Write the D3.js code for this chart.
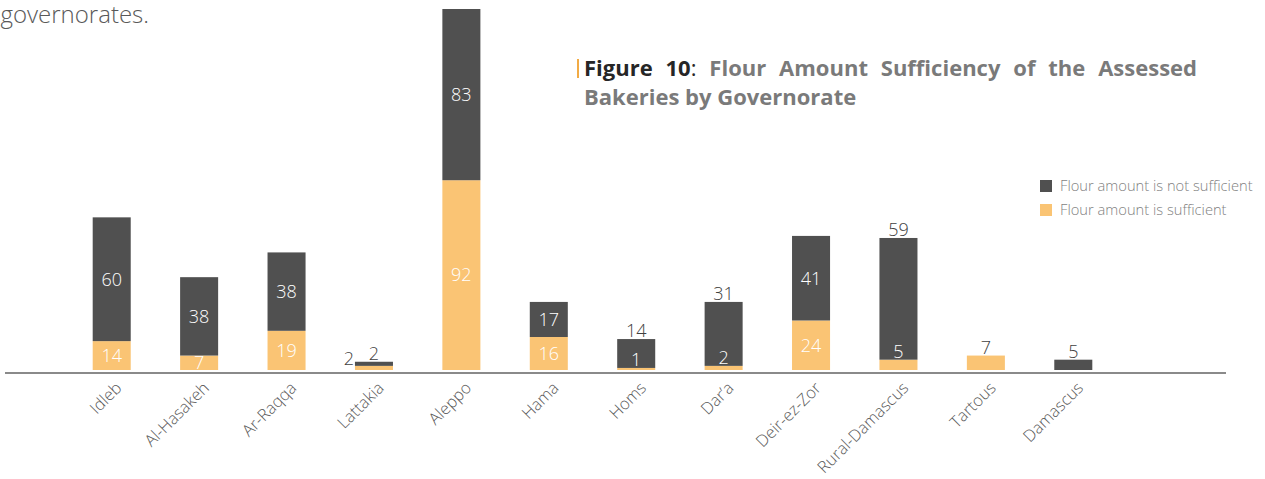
<!DOCTYPE html>
<html>
<head>
<meta charset="utf-8">
<script src="https://cdn.jsdelivr.net/npm/d3@7"></script>
<style>
  html, body { margin: 0; padding: 0; background: #fff; overflow: hidden; }
  svg { display: block; font-family: "Open Sans", "Noto Sans", sans-serif; }
</style>
</head>
<body>
<svg id="chart" width="1265" height="479"></svg>
<script>
// Bakeries per governorate, split by whether their flour amount is sufficient
const governorates = ["Idleb", "Al-Hasakeh", "Ar-Raqqa", "Lattakia", "Aleppo", "Hama", "Homs", "Dar’a", "Deir-ez-Zor", "Rural-Damascus", "Tartous", "Damascus"];
const sufficient    = [14, 7, 19, 2, 92, 16, 1, 2, 24, 5, 7, 0];
const notSufficient = [60, 38, 38, 2, 83, 17, 14, 31, 41, 59, 0, 5];
// where each value label sits relative to its segment
const sufficientLabelPlacement    = ["center", "center", "center", "left", "center", "center", "above", "above", "center", "above", "above", "none"];
const notSufficientLabelPlacement = ["center", "center", "center", "above", "center", "center", "above", "above", "center", "above", "none", "above"];
const seriesKeys  = ["sufficient", "notSufficient"];
const seriesNames = { notSufficient: "Flour amount is not sufficient", sufficient: "Flour amount is sufficient" };
// title words; pieces inside one inner array are set without a space between them
const titleLine1 = [["Figure"], ["10", ":"], ["Flour"], ["Amount"], ["Sufficiency"], ["of"], ["the"], ["Assessed"]];
const titleLine2 = "Bakeries by Governorate";
const leadText = "governorates.";

const colors = { sufficient: "#fac474", notSufficient: "#505050" };
const rows = governorates.map((g, i) => ({
  name: g,
  sufficient: sufficient[i],
  notSufficient: notSufficient[i],
  placement: { sufficient: sufficientLabelPlacement[i], notSufficient: notSufficientLabelPlacement[i] }
}));

const svg = d3.select("#chart");

// text continuing from the preceding paragraph
svg.append("text")
  .attr("x", 0.5).attr("y", 23)
  .attr("font-size", 24).attr("font-weight", 300)
  .attr("fill", "#595959")
  .text(leadText);

const x = d3.scaleBand()
  .domain(governorates)
  .range([68, 1117])
  .paddingInner(0.565)
  .paddingOuter(0.2825);

const y = d3.scaleLinear().domain([0, 175]).range([370, 9]);

const stacked = d3.stack().keys(seriesKeys)(rows);

// bars
const layers = svg.append("g").attr("class", "bars")
  .selectAll("g").data(stacked).join("g")
  .attr("fill", d => colors[d.key]);

layers.selectAll("rect")
  .data(d => d.map(s => ({ key: d.key, s })))
  .join("rect")
  .attr("x", d => x(d.s.data.name))
  .attr("width", x.bandwidth())
  .attr("y", d => y(d.s[1]))
  .attr("height", d => y(d.s[0]) - y(d.s[1]));

// category axis
const axisY = 373;
svg.append("line")
  .attr("x1", 5).attr("x2", 1226)
  .attr("y1", axisY).attr("y2", axisY)
  .attr("stroke", "#8a8a8a").attr("stroke-width", 2);

const xAxis = svg.append("g")
  .attr("transform", `translate(0,${axisY})`)
  .call(d3.axisBottom(x).tickSize(0).tickSizeOuter(0));
xAxis.select(".domain").remove();
xAxis.selectAll(".tick text")
  .attr("font-family", "\"Open Sans\", \"Noto Sans\", sans-serif")
  .attr("font-size", 16.5).attr("font-weight", 300)
  .attr("fill", "#595959")
  .attr("text-anchor", "end")
  .attr("dy", null)
  .attr("y", 0)
  .attr("transform", "translate(11,16) rotate(-45)");

// value labels
const labelSize = 18;
const labels = svg.append("g").attr("class", "labels")
  .attr("font-size", labelSize).attr("font-weight", 300);

stacked.forEach(layer => {
  layer.forEach(s => {
    const v = s.data[layer.key];
    const place = s.data.placement[layer.key];
    if (!v || place === "none") return;
    const cx = x(s.data.name) + x.bandwidth() / 2;
    const top = y(s[1]), bottom = y(s[0]);
    let tx = cx, ty, anchor = "middle", fill;
    if (place === "center") {
      ty = (top + bottom) / 2 + labelSize * 0.35;
      fill = "#ffffff";
    } else if (place === "above") {
      ty = top - 2;
      const onDark = layer.key === "sufficient" && s.data.notSufficient > 0;
      fill = onDark ? "#ffffff" : "#404040";
    } else {
      tx = x(s.data.name) - 1;
      ty = top - 1;
      anchor = "end";
      fill = "#404040";
    }
    labels.append("text")
      .attr("x", tx).attr("y", ty)
      .attr("text-anchor", anchor)
      .attr("fill", fill)
      .text(v);
  });
});

// legend
const legend = svg.append("g").attr("transform", "translate(1040,180)");
["notSufficient", "sufficient"].forEach((k, i) => {
  const g = legend.append("g").attr("transform", `translate(0,${i * 24})`);
  g.append("rect").attr("width", 12).attr("height", 12).attr("fill", colors[k]);
  g.append("text")
    .attr("x", 20).attr("y", 11)
    .attr("font-size", 14.7).attr("font-weight", 300)
    .attr("fill", "#7f7f7f")
    .text(seriesNames[k]);
});

// title, first line justified between two edges
const title = svg.append("g").attr("class", "title");
const titleLeft = 584, titleRight = 1197, titleSize = 22;
title.append("rect")
  .attr("x", 577).attr("y", 59).attr("width", 2).attr("height", 19)
  .attr("fill", "#f2ab45");

title.append("text")
  .attr("x", titleLeft).attr("y", 105)
  .attr("font-size", titleSize).attr("font-weight", 700)
  .attr("fill", "#7a7a7a")
  .text(titleLine2);

// each word is a small group of text pieces laid side by side
const words = titleLine1.map(parts => {
  const g = title.append("g");
  let w = 0;
  parts.forEach(p => {
    const black = p === "Figure" || p === "10";
    const t = g.append("text")
      .attr("x", w).attr("y", 76)
      .attr("font-size", titleSize)
      .attr("font-weight", p === ":" ? 400 : 700)
      .attr("fill", black || p === ":" ? "#262626" : "#7a7a7a")
      .text(p);
    w += t.node().getComputedTextLength();
  });
  return { g, w };
});
const gap = (titleRight - titleLeft - d3.sum(words, d => d.w)) / (words.length - 1);
let cursor = titleLeft;
words.forEach(d => { d.g.attr("transform", `translate(${cursor},0)`); cursor += d.w + gap; });
</script>
</body>
</html>
